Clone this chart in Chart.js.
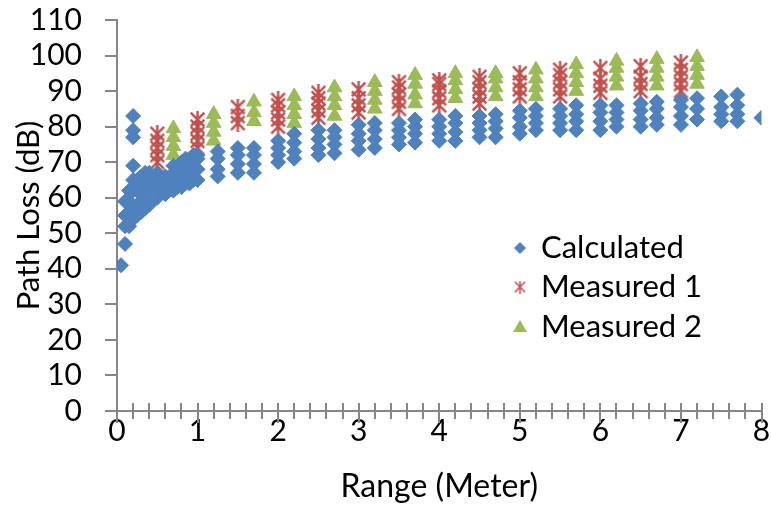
<!DOCTYPE html>
<html>
<head>
<meta charset="utf-8">
<script src="https://cdn.jsdelivr.net/npm/chart.js@4.4.0/dist/chart.umd.min.js"></script>
<style>
  html, body { margin: 0; padding: 0; background: #fff; }
  #wrap { width: 771px; height: 506px; }
</style>
</head>
<body>
<div id="wrap"><canvas id="graficoPerdida"></canvas></div>
<script>
// Calculated path loss: each range has several readings (dB)
var calcRange = [0.05, 0.1, 0.15, 0.2, 0.25, 0.3, 0.35, 0.4, 0.5, 0.6, 0.7, 0.75, 0.8, 0.85, 0.9, 0.95, 1.0,
                 1.25, 1.5, 1.7, 2.0, 2.2, 2.5, 2.7, 3.0, 3.2, 3.5, 3.7, 4.0, 4.2, 4.5, 4.7, 5.0, 5.2, 5.5, 5.7,
                 6.0, 6.2, 6.5, 6.7, 7.0, 7.2, 7.5, 7.7, 8.0];
var calcLoss = [
  [41], [47, 52, 55, 59], [52, 55, 59, 62], [54, 57, 62, 65, 69, 77, 79, 83], [55, 58, 62, 65],
  [56, 59, 63, 66], [57, 61, 64, 67], [58, 62, 65, 67], [60, 63, 65, 67], [61, 64, 66],
  [62, 64, 67, 69], [63, 65, 68], [63, 66, 68, 70], [64, 66, 69, 71], [64, 67, 70, 71],
  [65, 68, 70, 72], [65, 68, 71, 72],
  [66, 68, 71, 73], [67, 69.5, 72, 74], [67, 69.5, 72, 74], [70, 72, 74, 76], [71, 73, 75.5, 78],
  [72, 74, 76.5, 79], [72.5, 75, 77, 79], [73.5, 76, 78, 80.5], [74, 76.5, 79, 81], [75, 77, 79, 81],
  [75.5, 78, 80, 82], [76, 78, 80, 82], [76, 78.5, 81, 83], [77, 79, 81, 83], [77, 79.5, 81.5, 83.5],
  [78, 80, 82.5, 84.5], [79, 81, 83, 85], [79, 81, 83, 85], [79, 81.5, 83.5, 86],
  [79, 81.5, 84, 86], [80, 82, 84, 86], [80, 82, 84.5, 86.5], [80.5, 82.5, 85, 87],
  [80.5, 83, 85.5, 87.5], [82, 85, 88], [81.5, 83.5, 85.5, 88.5], [81.5, 83.5, 86, 89], [82.5]
];

// Measured 1
var med1Range = [0.5, 1.0, 1.5, 2.0, 2.5, 3.0, 3.5, 4.0, 4.5, 5.0, 5.5, 6.0, 6.5, 7.0];
var med1Loss = [
  [70, 72, 74, 76, 78], [74, 76, 78, 80, 82], [81, 83, 85.5], [80, 82, 84, 86, 87.5],
  [82.5, 84.5, 86.5, 88, 89.5], [84, 86, 88, 90.5], [85, 87, 89, 91, 92.5], [86, 88, 90, 92, 93],
  [86.5, 88.5, 90.5, 92.5, 94], [88.5, 90.5, 92.5, 95], [88.5, 90.5, 92.5, 94.5, 96],
  [89.5, 91.5, 93.5, 96.5], [90, 92, 94, 97], [90, 92, 94, 96, 98]
];

// Measured 2
var med2Range = [0.7, 1.2, 1.7, 2.2, 2.7, 3.2, 3.7, 4.2, 4.7, 5.2, 5.7, 6.2, 6.7, 7.2];
var med2Loss = [
  [72, 74.5, 77, 79.5], [76, 78.5, 81, 83.5], [81.5, 84, 87], [81, 83.5, 86, 88.5],
  [83, 86, 88.5, 91], [85, 87.5, 90, 92.5], [86.5, 89, 92, 94.5], [88, 90.5, 93, 95],
  [88.5, 91, 93.5, 95], [88.5, 91, 93.5, 96], [90, 92.5, 95, 97.5], [91.5, 94, 96.5, 98.5],
  [91.5, 94, 96.5, 99], [92, 94.5, 97, 99.5]
];

var nombres = ['Calculated', 'Measured 1', 'Measured 2'];

var AZUL = '#4F81BD', ROJO = '#C0504D', VERDE = '#9BBB59', GRIS = '#868686';
var FUENTE = 'Lato, "Open Sans", sans-serif';

function aPuntos(rangos, perdidas) {
  var pts = [];
  rangos.forEach(function (r, i) {
    perdidas[i].forEach(function (v) { pts.push({ x: r, y: v }); });
  });
  return pts;
}

// asterisk marker (X plus vertical stroke)
function estrella(tam, grosor, color) {
  var c = document.createElement('canvas');
  c.width = tam; c.height = tam;
  var g = c.getContext('2d');
  var m = grosor / 2 + 0.5, e = tam - m, mid = tam / 2;
  g.strokeStyle = color;
  g.lineWidth = grosor;
  g.beginPath();
  g.moveTo(m, m); g.lineTo(e, e);
  g.moveTo(e, m); g.lineTo(m, e);
  g.moveTo(mid, 0); g.lineTo(mid, tam);
  g.stroke();
  return c;
}
var estrellaGrande = estrella(17, 2.4, ROJO);
var estrellaLeyenda = estrella(13, 1.6, ROJO);

// x axis ticks cross the axis line, major ones a bit longer below
var marcasX = {
  id: 'marcasX',
  beforeDatasetsDraw: function (chart) {
    var s = chart.scales.x, c = chart.ctx, base = chart.chartArea.bottom;
    c.save();
    c.strokeStyle = GRIS;
    c.lineWidth = 2;
    s.ticks.forEach(function (t) {
      var px = Math.round(s.getPixelForValue(t.value));
      var mayor = Math.abs(t.value - Math.round(t.value)) < 1e-6;
      c.beginPath();
      c.moveTo(px, base - 8);
      c.lineTo(px, base + (mayor ? 12 : 8));
      c.stroke();
    });
    c.restore();
  }
};

var leyenda = {
  id: 'leyenda',
  afterDraw: function (chart) {
    var c = chart.ctx;
    var x0 = 520, xt = 541, filas = [248, 287, 327];
    c.save();
    // diamond
    c.fillStyle = AZUL;
    c.beginPath();
    c.moveTo(x0, filas[0] - 6); c.lineTo(x0 + 6, filas[0]);
    c.lineTo(x0, filas[0] + 6); c.lineTo(x0 - 6, filas[0]);
    c.closePath(); c.fill();
    // star
    c.drawImage(estrellaLeyenda, x0 - 6.5, filas[1] - 6.5);
    // triangle
    c.fillStyle = VERDE;
    c.beginPath();
    c.moveTo(x0, filas[2] - 7); c.lineTo(x0 + 7, filas[2] + 5); c.lineTo(x0 - 7, filas[2] + 5);
    c.closePath(); c.fill();
    c.fillStyle = '#000';
    c.font = '31px ' + FUENTE;
    c.textBaseline = 'middle';
    c.textAlign = 'left';
    nombres.forEach(function (n, i) { c.fillText(n, xt, filas[i]); });
    c.restore();
  }
};

var ctx = document.getElementById('graficoPerdida').getContext('2d');
var grafico = new Chart(ctx, {
  type: 'scatter',
  data: {
    datasets: [{
      label: nombres[0],
      data: aPuntos(calcRange, calcLoss),
      pointStyle: 'rectRot',
      pointRadius: 7.5,
      backgroundColor: AZUL,
      borderColor: AZUL,
      borderWidth: 1
    }, {
      label: nombres[1],
      data: aPuntos(med1Range, med1Loss),
      pointStyle: estrellaGrande,
      pointRadius: 8,
      backgroundColor: ROJO,
      borderColor: ROJO
    }, {
      label: nombres[2],
      data: aPuntos(med2Range, med2Loss),
      pointStyle: 'triangle',
      pointRadius: 8.5,
      backgroundColor: VERDE,
      borderColor: VERDE,
      borderWidth: 1
    }]
  },
  options: {
    responsive: true,
    maintainAspectRatio: false,
    animation: false,
    devicePixelRatio: 1,
    layout: { padding: 0 },
    plugins: {
      legend: { display: false },
      tooltip: { enabled: false }
    },
    scales: {
      x: {
        type: 'linear',
        min: 0,
        max: 8,
        afterFit: function (s) { s.height = 95; s.paddingRight = 9; },
        border: { display: true, color: GRIS, width: 2 },
        grid: { display: true, drawOnChartArea: false, drawTicks: false },
        ticks: {
          stepSize: 0.2,
          autoSkip: false,
          maxRotation: 0,
          padding: 2,
          color: '#000',
          font: { family: FUENTE, size: 30, lineHeight: 1.2 },
          callback: function (v) {
            return Math.abs(v - Math.round(v)) < 1e-6 ? String(Math.round(v)) : '';
          }
        },
        title: {
          display: true,
          text: 'Range (Meter)',
          color: '#000',
          font: { family: FUENTE, size: 32, lineHeight: 1.2 },
          padding: { top: 0, bottom: 0 }
        }
      },
      y: {
        min: 0,
        max: 110,
        afterFit: function (s) { s.width = 117; s.paddingTop = 20; s.paddingBottom = 20; },
        border: { display: true, color: GRIS, width: 2 },
        grid: { drawOnChartArea: false, drawTicks: true, tickLength: 12, color: GRIS, lineWidth: 2 },
        ticks: {
          stepSize: 10,
          autoSkip: false,
          padding: 23,
          color: '#000',
          font: { family: FUENTE, size: 30, lineHeight: 1.2 }
        },
        title: {
          display: true,
          text: 'Path Loss (dB)',
          color: '#000',
          font: { family: FUENTE, size: 31, lineHeight: 1.2 },
          padding: { top: 10, bottom: 0 }
        }
      }
    }
  },
  plugins: [marcasX, leyenda]
});
</script>
</body>
</html>
